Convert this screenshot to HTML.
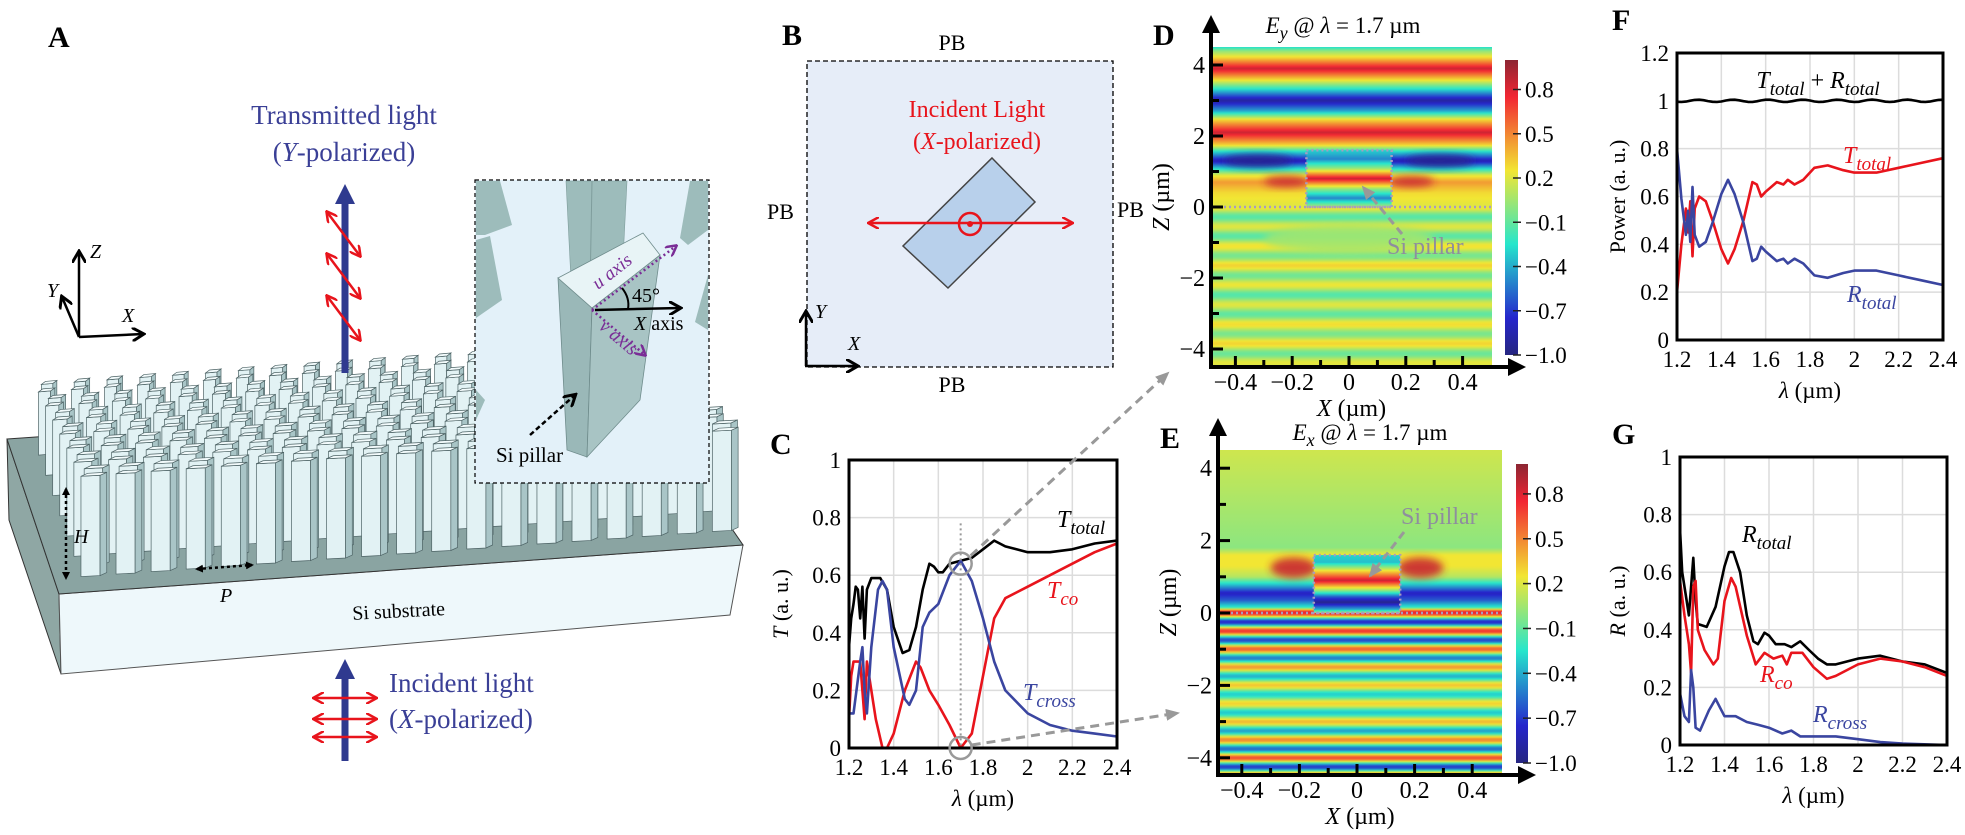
<!DOCTYPE html>
<html><head><meta charset="utf-8">
<style>
html,body{margin:0;padding:0;background:#fff;}
svg{display:block;font-family:"Liberation Serif",serif;}
</style></head>
<body>
<svg id="s" xmlns="http://www.w3.org/2000/svg" width="1965" height="835" viewBox="0 0 1965 835">
<defs>
<marker id="ab" markerWidth="8" markerHeight="8" refX="6" refY="4" orient="auto-start-reverse" markerUnits="userSpaceOnUse"><path d="M0,0 L8,4 L0,8 z" fill="#000"/></marker>
<marker id="ag" markerWidth="14" markerHeight="12" refX="12" refY="6" orient="auto" markerUnits="userSpaceOnUse"><path d="M0,0 L14,6 L0,12 z" fill="#999"/></marker>
<marker id="ar" markerWidth="12" markerHeight="12" refX="10" refY="6" orient="auto-start-reverse" markerUnits="userSpaceOnUse"><path d="M0,0 L11,6 L0,12" fill="none" stroke="#e8141c" stroke-width="2.5"/></marker>
<marker id="ak" markerWidth="14" markerHeight="14" refX="11" refY="7" orient="auto" markerUnits="userSpaceOnUse"><path d="M0,0 L12,7 L0,14" fill="none" stroke="#000" stroke-width="3"/></marker>
<marker id="ap" markerWidth="12" markerHeight="12" refX="10" refY="6" orient="auto" markerUnits="userSpaceOnUse"><path d="M0,0 L11,6 L0,12" fill="none" stroke="#7a2d96" stroke-width="2.5"/></marker>
<marker id="abl" markerWidth="20" markerHeight="20" refX="4" refY="10" orient="auto" markerUnits="userSpaceOnUse"><path d="M0,0 L20,10 L0,20 z" fill="#2f3a8f"/></marker>
</defs>
<g id="A"></g>
<g id="rest"></g>
</svg>
<script>
const NS="http://www.w3.org/2000/svg";
const svg=document.getElementById('s');
function el(tag,attrs,parent,text){const e=document.createElementNS(NS,tag);for(const k in attrs)e.setAttribute(k,attrs[k]);if(text!==undefined)e.innerHTML=text;(parent||svg).appendChild(e);return e;}
function jet(v){let t=(v+1)/2;t=Math.max(0,Math.min(1,t));
 const c=x=>Math.max(0,Math.min(1,x));
 let r=c(1.5-Math.abs(4*t-3)),g=c(1.5-Math.abs(4*t-2)),b=c(1.5-Math.abs(4*t-1));
 r=0.15+0.8*r;g=0.15+0.75*g;b=0.2+0.6*b;
 return `rgb(${Math.round(r*255)},${Math.round(g*255)},${Math.round(b*255)})`;}
const defs=svg.querySelector('defs');
function vgrad(id,y0,y1,stops){const g=el('linearGradient',{id:id,gradientUnits:'userSpaceOnUse',x1:0,y1:y0,x2:0,y2:y1},defs);
 stops.forEach(s=>el('stop',{offset:s[0],'stop-color':s[1]},g));}
function interp(pts,z){for(let i=0;i<pts.length-1;i++){const a=pts[i],b=pts[i+1];if((z<=a[0]&&z>=b[0])){const t=(z-a[0])/(b[0]-a[0]);return a[1]+t*(b[1]-a[1]);}}return pts[pts.length-1][1];}
function profileGrad(id,y0,y1,zTop,zBot,f){const st=[];for(let i=0;i<=240;i++){const z=zTop+(zBot-zTop)*i/240;st.push([i/240,jet(f(z))]);}vgrad(id,y0,y1,st);}

/* ========== PANEL A ========== */
const A=document.getElementById('A');
el('text',{x:48,y:47,'font-size':30,'font-weight':'bold'},A,'A');
el('polygon',{points:'7,439 59,594 61,674 9,520',fill:'#8fa7a4',stroke:'#333','stroke-width':1},A);
el('polygon',{points:'59,594 743,545 730,615 61,674',fill:'#eef8fb',stroke:'#555','stroke-width':1},A);
el('polygon',{points:'7,439 640,395 743,545 59,594',fill:'#8aa4a2',stroke:'#333','stroke-width':1},A);
(function(){
 const FL=[59,594],FR=[743,545],BL=[7,439],BR=[640,395];
 function P(u,v){const fx=FL[0]+u*(FR[0]-FL[0]),fy=FL[1]+u*(FR[1]-FL[1]);const bx=BL[0]+u*(BR[0]-BL[0]),by=BL[1]+u*(BR[1]-BL[1]);return [fx+v*(bx-fx),fy+v*(by-fy)];}
 const rows=14,cols=19;let out='';
 for(let r=rows-1;r>=0;r--){const v=0.1+0.85*r/(rows-1);
  for(let c=0;c<cols;c++){const u=0.04+0.93*c/(cols-1)+ (r%2?0.01:0);
   const [x,y]=P(u,v);const s=1-0.45*v;const h=105*s,w=20*s,d=7*s;
   if(x>470&&x<712&&y<483)continue;
   out+=`<polygon points="${x},${y} ${x+w},${y-1} ${x+w},${y-h-1} ${x},${y-h}" fill="#e2f2f4" stroke="#4d6365" stroke-width="0.7"/>`;
   out+=`<polygon points="${x+w},${y-1} ${x+w+d},${y-4} ${x+w+d},${y-h-4} ${x+w},${y-h-1}" fill="#a9c5c7" stroke="#4d6365" stroke-width="0.7"/>`;
   out+=`<polygon points="${x},${y-h} ${x+w},${y-h-1} ${x+w+d},${y-h-4} ${x+d},${y-h-3}" fill="#f3fbfc" stroke="#4d6365" stroke-width="0.7"/>`;
  }}
 const g=el('g',{},A);g.innerHTML=out;
})();
el('line',{x1:66,y1:489,x2:66,y2:578,stroke:'#000','stroke-width':2.5,'stroke-dasharray':'3,3','marker-end':'url(#ab)','marker-start':'url(#ab)'},A);
el('text',{x:74,y:543,'font-size':20,'font-style':'italic'},A,'H');
el('line',{x1:197,y1:569,x2:252,y2:565,stroke:'#000','stroke-width':2.5,'stroke-dasharray':'3,3','marker-end':'url(#ab)','marker-start':'url(#ab)'},A);
el('text',{x:220,y:602,'font-size':20,'font-style':'italic'},A,'P');
el('text',{x:352,y:617,'font-size':20,transform:'rotate(-3 407 607)'},A,'Si substrate');
el('line',{x1:79,y1:337,x2:79,y2:252,stroke:'#000','stroke-width':2.5,'marker-end':'url(#ak)'},A);
el('line',{x1:79,y1:337,x2:143,y2:334,stroke:'#000','stroke-width':2.5,'marker-end':'url(#ak)'},A);
el('line',{x1:79,y1:337,x2:62,y2:297,stroke:'#000','stroke-width':2.5,'marker-end':'url(#ak)'},A);
el('text',{x:90,y:258,'font-size':20,'font-style':'italic'},A,'Z');
el('text',{x:122,y:322,'font-size':20,'font-style':'italic'},A,'X');
el('text',{x:47,y:297,'font-size':20,'font-style':'italic'},A,'Y');
el('text',{x:344,y:124,'font-size':27,fill:'#3a3f96','text-anchor':'middle'},A,'Transmitted light');
el('text',{x:344,y:161,'font-size':27,fill:'#3a3f96','text-anchor':'middle'},A,'(<tspan font-style="italic">Y</tspan>-polarized)');
el('line',{x1:345,y1:373,x2:345,y2:200,stroke:'#2f3a8f','stroke-width':7,'marker-end':'url(#abl)'},A);
[208,250,292].forEach(y=>{el('line',{x1:327,y1:y+4,x2:360,y2:y+48,stroke:'#e8141c','stroke-width':2.5,'marker-end':'url(#ar)','marker-start':'url(#ar)'},A);});
el('line',{x1:345,y1:761,x2:345,y2:675,stroke:'#2f3a8f','stroke-width':7,'marker-end':'url(#abl)'},A);
[698,719,737].forEach(y=>{el('line',{x1:314,y1:y,x2:376,y2:y,stroke:'#e8141c','stroke-width':2.5,'marker-end':'url(#ar)','marker-start':'url(#ar)'},A);});
el('text',{x:389,y:692,'font-size':27,fill:'#3a3f96'},A,'Incident light');
el('text',{x:389,y:728,'font-size':27,fill:'#3a3f96'},A,'(<tspan font-style="italic">X</tspan>-polarized)');
el('rect',{x:475,y:180,width:234,height:303,fill:'#e3f1f9',stroke:'#000','stroke-width':1.2,'stroke-dasharray':'4,3'},A);
const ins=el('g',{},A);
ins.innerHTML=`
<polygon points="476,181 500,181 512,225 485,235 476,235" fill="#9dbcbb"/>
<polygon points="476,240 490,236 502,300 476,318" fill="#9dbcbb"/>
<polygon points="566,181 627,181 622,280 572,300" fill="#9dbcbb" stroke="#7f9d9c" stroke-width="0.6"/>
<line x1="592" y1="181" x2="590" y2="290" stroke="#7f9d9c"/>
<polygon points="690,181 708,181 708,230 688,245 680,238" fill="#9dbcbb"/>
<polygon points="708,275 708,330 695,322" fill="#9dbcbb"/>
<polygon points="476,390 485,400 476,420" fill="#9dbcbb"/>
<polygon points="558,278 592,308 587,457 567,450" fill="#9ab8b8" stroke="#6f8c8c" stroke-width="0.8"/>
<polygon points="592,308 660,255 640,400 587,457" fill="#a8c4c4" stroke="#6f8c8c" stroke-width="0.8"/>
<polygon points="558,278 643,233 660,255 592,308" fill="#e8f4f6" stroke="#6f8c8c" stroke-width="0.8"/>`;
el('line',{x1:592,y1:310,x2:676,y2:246,stroke:'#7a2d96','stroke-width':2.5,'stroke-dasharray':'2,3','marker-end':'url(#ap)'},A);
el('line',{x1:592,y1:310,x2:645,y2:355,stroke:'#7a2d96','stroke-width':2.5,'stroke-dasharray':'2,3','marker-end':'url(#ap)'},A);
el('line',{x1:595,y1:310,x2:680,y2:308,stroke:'#000','stroke-width':2.5,'marker-end':'url(#ak)'},A);
el('path',{d:'M622,288 Q630,298 628,309',fill:'none',stroke:'#000','stroke-width':2},A);
el('text',{x:632,y:302,'font-size':20},A,'45°');
el('text',{x:634,y:330,'font-size':20},A,'<tspan font-style="italic">X</tspan> axis');
el('text',{x:0,y:0,'font-size':19,'font-style':'italic',fill:'#7a2d96',transform:'translate(598,290) rotate(-38)'},A,'u axis');
el('text',{x:0,y:0,'font-size':19,'font-style':'italic',fill:'#7a2d96',transform:'translate(598,328) rotate(40)'},A,'v axis');
el('line',{x1:530,y1:435,x2:575,y2:395,stroke:'#000','stroke-width':2.5,'stroke-dasharray':'5,3','marker-end':'url(#ak)'},A);
el('text',{x:496,y:462,'font-size':21},A,'Si pillar');

/* ========== rest ========== */
const R=document.getElementById('rest');
el('text',{x:782,y:45,'font-size':30,'font-weight':'bold'},R,'B');
el('rect',{x:807,y:61,width:306,height:306,fill:'#e6edf8',stroke:'#000','stroke-width':1.3,'stroke-dasharray':'5,3'},R);
el('text',{x:952,y:50,'font-size':22,'text-anchor':'middle'},R,'PB');
el('text',{x:952,y:392,'font-size':22,'text-anchor':'middle'},R,'PB');
el('text',{x:767,y:219,'font-size':22},R,'PB');
el('text',{x:1117,y:217,'font-size':22},R,'PB');
el('text',{x:977,y:117,'font-size':24,fill:'#e8141c','text-anchor':'middle'},R,'Incident Light');
el('text',{x:977,y:149,'font-size':24,fill:'#e8141c','text-anchor':'middle'},R,'(<tspan font-style="italic">X</tspan>-polarized)');
el('polygon',{points:'992,158 1035,202 948,288 903,246',fill:'#b8d0eb',stroke:'#444','stroke-width':1.5},R);
el('line',{x1:869,y1:223,x2:1072,y2:223,stroke:'#e8141c','stroke-width':2.5,'marker-end':'url(#ar)','marker-start':'url(#ar)'},R);
el('circle',{cx:970,cy:224,r:11,fill:'none',stroke:'#e8141c','stroke-width':2.5},R);
el('circle',{cx:970,cy:224,r:3,fill:'#e8141c'},R);
el('line',{x1:806,y1:366,x2:806,y2:312,stroke:'#000','stroke-width':2.5,'marker-end':'url(#ak)'},R);
el('line',{x1:805,y1:366,x2:857,y2:366,stroke:'#000','stroke-width':2.5,'marker-end':'url(#ak)'},R);
el('text',{x:815,y:318,'font-size':20,'font-style':'italic'},R,'Y');
el('text',{x:848,y:350,'font-size':20,'font-style':'italic'},R,'X');

function plot(o){
 const {x0,x1,y0,y1,ymax,yticks,lab,labx,laby,ylabel,ylx,series}=o;
 const X=l=>x0+(l-1.2)/1.2*(x1-x0), Y=v=>y1-v/ymax*(y1-y0);
 const g=el('g',{},R);
 [1.4,1.6,1.8,2.0,2.2].forEach(l=>el('line',{x1:X(l),y1:y0,x2:X(l),y2:y1,stroke:'#dcdcdc','stroke-width':1.5},g));
 yticks.forEach(v=>{if(v>0&&v<ymax)el('line',{x1:x0,y1:Y(v),x2:x1,y2:Y(v),stroke:'#dcdcdc','stroke-width':1.5},g);});
 series.forEach(s=>{let d='';s.p.forEach((p,i)=>{d+=(i?'L':'M')+X(p[0]).toFixed(1)+','+Y(p[1]).toFixed(1);});
  el('path',{d:d,fill:'none',stroke:s.c,'stroke-width':2.6,'stroke-linejoin':'round'},g);});
 el('rect',{x:x0,y:y0,width:x1-x0,height:y1-y0,fill:'none',stroke:'#000','stroke-width':3},g);
 yticks.forEach(v=>el('text',{x:x0-8,y:Y(v)+8,'font-size':23,'text-anchor':'end'},g,String(v)));
 [1.2,1.4,1.6,1.8,2,2.2,2.4].forEach(l=>el('text',{x:X(l),y:y1+27,'font-size':23,'text-anchor':'middle'},g,String(l)));
 el('text',{x:(x0+x1)/2,y:y1+58,'font-size':23,'text-anchor':'middle'},g,'<tspan font-style="italic">λ</tspan> (µm)');
 el('text',{x:0,y:0,'font-size':22,'text-anchor':'middle',transform:`translate(${ylx},${(y0+y1)/2}) rotate(-90)`},g,ylabel);
 el('text',{x:labx,y:laby,'font-size':30,'font-weight':'bold'},g,lab);
 return {X,Y,g};
}
const red='#e8141c',blue='#3a45a0',blk='#000';
const Tt=[[1.2,0.35],[1.21,0.45],[1.22,0.5],[1.23,0.56],[1.24,0.55],[1.25,0.45],[1.26,0.56],[1.27,0.38],[1.28,0.55],[1.3,0.59],[1.34,0.59],[1.37,0.55],[1.4,0.42],[1.44,0.33],[1.47,0.34],[1.5,0.42],[1.53,0.55],[1.56,0.64],[1.58,0.63],[1.6,0.61],[1.62,0.61],[1.65,0.64],[1.7,0.65],[1.75,0.66],[1.8,0.69],[1.85,0.72],[1.9,0.7],[1.95,0.69],[2.0,0.68],[2.1,0.68],[2.2,0.69],[2.3,0.71],[2.4,0.72]];
const Tco=[[1.2,0.1],[1.21,0.25],[1.22,0.3],[1.25,0.3],[1.26,0.2],[1.27,0.1],[1.28,0.3],[1.29,0.25],[1.32,0.1],[1.35,0.0],[1.37,0.0],[1.4,0.05],[1.45,0.2],[1.5,0.3],[1.52,0.28],[1.56,0.2],[1.6,0.15],[1.65,0.08],[1.7,0.0],[1.75,0.05],[1.8,0.25],[1.85,0.45],[1.9,0.52],[2.0,0.56],[2.1,0.6],[2.2,0.64],[2.3,0.68],[2.4,0.71]];
const Tcr=[[1.2,0.12],[1.22,0.12],[1.25,0.3],[1.26,0.35],[1.27,0.2],[1.28,0.12],[1.3,0.35],[1.33,0.55],[1.35,0.58],[1.37,0.55],[1.4,0.35],[1.45,0.17],[1.47,0.15],[1.5,0.2],[1.53,0.42],[1.56,0.47],[1.6,0.5],[1.65,0.6],[1.7,0.65],[1.75,0.58],[1.8,0.45],[1.85,0.3],[1.9,0.2],[2.0,0.12],[2.1,0.08],[2.2,0.06],[2.3,0.05],[2.4,0.04]];
const C=plot({x0:849,x1:1117,y0:460,y1:748,ymax:1,yticks:[0,0.2,0.4,0.6,0.8,1],lab:'C',labx:770,laby:454,ylabel:'<tspan font-style="italic">T</tspan> (a. u.)',ylx:788,series:[{c:blk,p:Tt},{c:red,p:Tco},{c:blue,p:Tcr}]});
el('line',{x1:C.X(1.7),y1:C.Y(0.78),x2:C.X(1.7),y2:C.Y(0),stroke:'#999','stroke-width':2,'stroke-dasharray':'2,3'},R);
el('circle',{cx:C.X(1.7),cy:C.Y(0.64),r:11,fill:'none',stroke:'#999','stroke-width':2.5},R);
el('circle',{cx:C.X(1.7),cy:C.Y(0),r:11,fill:'none',stroke:'#999','stroke-width':2.5},R);
el('line',{x1:C.X(1.7)+10,y1:C.Y(0.64)-8,x2:1168,y2:373,stroke:'#999','stroke-width':3,'stroke-dasharray':'9,6','marker-end':'url(#ag)'},R);
el('line',{x1:C.X(1.7)+11,y1:C.Y(0)-3,x2:1178,y2:713,stroke:'#999','stroke-width':3,'stroke-dasharray':'9,6','marker-end':'url(#ag)'},R);
el('text',{x:1057,y:527,'font-size':24,'font-style':'italic'},R,'T<tspan font-size="19" dy="7">total</tspan>');
el('text',{x:1047,y:598,'font-size':24,'font-style':'italic',fill:red},R,'T<tspan font-size="19" dy="7">co</tspan>');
el('text',{x:1023,y:700,'font-size':24,'font-style':'italic',fill:blue},R,'T<tspan font-size="19" dy="7">cross</tspan>');

const Ft=[[1.2,0.2],[1.22,0.4],[1.24,0.55],[1.25,0.45],[1.26,0.58],[1.27,0.35],[1.28,0.55],[1.3,0.6],[1.33,0.58],[1.36,0.5],[1.4,0.38],[1.43,0.32],[1.46,0.38],[1.5,0.5],[1.54,0.66],[1.56,0.65],[1.58,0.6],[1.6,0.62],[1.65,0.66],[1.68,0.65],[1.7,0.67],[1.73,0.65],[1.77,0.67],[1.82,0.72],[1.88,0.73],[1.95,0.71],[2.0,0.7],[2.1,0.7],[2.2,0.72],[2.3,0.74],[2.4,0.76]];
const Fr=Ft.map(p=>[p[0],Math.max(0,Math.min(0.82,1-p[1]-0.01))]);Fr[0]=[1.2,0.8];
const Fs=[];for(let l=1.2;l<=2.401;l+=0.02)Fs.push([l,1+0.005*Math.sin(l*40)]);
plot({x0:1677,x1:1943,y0:53,y1:340,ymax:1.2,yticks:[0,0.2,0.4,0.6,0.8,1,1.2],lab:'F',labx:1612,laby:30,ylabel:'Power (a. u.)',ylx:1625,series:[{c:blk,p:Fs},{c:red,p:Ft},{c:blue,p:Fr}]});
el('text',{x:1818,y:88,'font-size':24,'font-style':'italic','text-anchor':'middle'},R,'T<tspan font-size="19" dy="7">total</tspan><tspan dy="-7" font-style="normal"> + </tspan>R<tspan font-size="19" dy="7">total</tspan>');
el('text',{x:1843,y:163,'font-size':24,'font-style':'italic',fill:red},R,'T<tspan font-size="19" dy="7">total</tspan>');
el('text',{x:1847,y:302,'font-size':24,'font-style':'italic',fill:blue},R,'R<tspan font-size="19" dy="7">total</tspan>');

const Gt=[[1.2,0.75],[1.21,0.6],[1.23,0.5],[1.24,0.45],[1.25,0.55],[1.26,0.65],[1.27,0.5],[1.28,0.42],[1.32,0.41],[1.36,0.48],[1.4,0.62],[1.42,0.67],[1.44,0.67],[1.47,0.6],[1.5,0.45],[1.53,0.36],[1.55,0.35],[1.58,0.39],[1.6,0.38],[1.63,0.35],[1.67,0.35],[1.7,0.34],[1.74,0.36],[1.78,0.33],[1.82,0.3],[1.86,0.28],[1.9,0.28],[2.0,0.3],[2.1,0.31],[2.2,0.29],[2.3,0.28],[2.4,0.25]];
const Gc=[[1.2,0.57],[1.22,0.45],[1.24,0.35],[1.25,0.25],[1.26,0.55],[1.27,0.57],[1.28,0.4],[1.31,0.33],[1.35,0.28],[1.37,0.3],[1.4,0.5],[1.43,0.58],[1.45,0.55],[1.5,0.38],[1.54,0.28],[1.58,0.32],[1.62,0.3],[1.66,0.31],[1.68,0.28],[1.7,0.32],[1.75,0.32],[1.8,0.27],[1.86,0.23],[1.9,0.24],[2.0,0.28],[2.1,0.3],[2.2,0.29],[2.3,0.27],[2.4,0.24]];
const Gx=[[1.2,0.18],[1.22,0.1],[1.24,0.08],[1.25,0.26],[1.26,0.2],[1.27,0.06],[1.29,0.05],[1.33,0.12],[1.36,0.16],[1.38,0.13],[1.4,0.1],[1.45,0.1],[1.5,0.08],[1.55,0.07],[1.6,0.06],[1.66,0.04],[1.7,0.05],[1.74,0.03],[1.8,0.03],[1.9,0.03],[2.0,0.02],[2.1,0.01],[2.2,0.005],[2.4,0]];
plot({x0:1680,x1:1947,y0:457,y1:745,ymax:1,yticks:[0,0.2,0.4,0.6,0.8,1],lab:'G',labx:1612,laby:444,ylabel:'<tspan font-style="italic">R</tspan> (a. u.)',ylx:1625,series:[{c:blk,p:Gt},{c:red,p:Gc},{c:blue,p:Gx}]});
el('text',{x:1742,y:542,'font-size':24,'font-style':'italic'},R,'R<tspan font-size="19" dy="7">total</tspan>');
el('text',{x:1760,y:682,'font-size':24,'font-style':'italic',fill:red},R,'R<tspan font-size="19" dy="7">co</tspan>');
el('text',{x:1813,y:722,'font-size':24,'font-style':'italic',fill:blue},R,'R<tspan font-size="19" dy="7">cross</tspan>');

function heat(o){
 const {px0,px1,py0,py1,z0y,zs,x0px,xs,ax,ay,cb,title,tx,ty,lab,lx,ly,outer,inner,blobs,id,pillLab}=o;
 const Yz=z=>z0y-z*zs, Xx=x=>x0px+x*xs;
 profileGrad(id+'o',py0,py1,(z0y-py0)/zs,(z0y-py1)/zs,outer);
 el('rect',{x:px0,y:py0,width:px1-px0,height:py1-py0,fill:`url(#${id}o)`},R);
 blobs.forEach(b=>el('ellipse',{cx:Xx(b[0]),cy:Yz(b[1]),rx:b[2]*xs,ry:b[3]*zs,fill:jet(b[4]),filter:'url(#blur)',opacity:0.9},R));
 profileGrad(id+'i',Yz(1.6),Yz(0),1.6,0,inner);
 el('rect',{x:Xx(-0.15),y:Yz(1.6),width:0.3*xs,height:1.6*zs,fill:`url(#${id}i)`},R);
 el('rect',{x:Xx(-0.15),y:Yz(1.6),width:0.3*xs,height:1.6*zs,fill:'none',stroke:'#a89cc0','stroke-width':2.5,'stroke-dasharray':'2,3'},R);
 el('line',{x1:px0+3,y1:Yz(0),x2:px1,y2:Yz(0),stroke:'#a89cc0','stroke-width':2.5,'stroke-dasharray':'2,3'},R);
 const st=[];for(let i=0;i<=40;i++)st.push([i/40,jet(1-2*i/40)]);
 vgrad(id+'c',cb[1],cb[3],st);
 el('rect',{x:cb[0],y:cb[1],width:cb[2]-cb[0],height:cb[3]-cb[1],fill:`url(#${id}c)`},R);
 [0.8,0.5,0.2,-0.1,-0.4,-0.7,-1.0].forEach(v=>{const y=cb[1]+(1-v)/2*(cb[3]-cb[1]);
  el('line',{x1:cb[2]-5,y1:y,x2:cb[2]+3,y2:y,stroke:'#222','stroke-width':1.5},R);
  el('text',{x:cb[2]+7,y:y+8,'font-size':23},R,(v<0?'−':'')+Math.abs(v).toFixed(1));});
 el('line',{x1:ax,y1:py1+2,x2:ax,y2:py0-18,stroke:'#000','stroke-width':4,'marker-end':'url(#abig)'},R);
 el('line',{x1:ax-2,y1:ay,x2:px1+20,y2:ay,stroke:'#000','stroke-width':4,'marker-end':'url(#abig)'},R);
 for(let z=-4;z<=4;z++){el('line',{x1:ax,y1:Yz(z),x2:ax+(z%2?8:12),y2:Yz(z),stroke:'#000','stroke-width':3},R);
  if(z%2==0)el('text',{x:ax-6,y:Yz(z)+8,'font-size':24,'text-anchor':'end'},R,(z<0?'−':'')+Math.abs(z));}
 for(let i=-4;i<=4;i++){const x=Xx(i/10);el('line',{x1:x,y1:ay,x2:x,y2:ay-(i%2?7:11),stroke:'#000','stroke-width':3},R);
  if(i%2==0)el('text',{x:x,y:ay+23,'font-size':24,'text-anchor':'middle'},R,(i<0?'−':'')+(i==0?'0':Math.abs(i/10).toFixed(1)));}
 el('text',{x:(px0+px1)/2,y:ay+49,'font-size':24,'text-anchor':'middle'},R,'<tspan font-style="italic">X</tspan> (µm)');
 el('text',{x:0,y:0,'font-size':24,'text-anchor':'middle',transform:`translate(${ax-42},${(py0+py1)/2-10}) rotate(-90)`},R,'<tspan font-style="italic">Z</tspan> (µm)');
 el('text',{x:tx,y:ty,'font-size':23,'text-anchor':'middle'},R,title);
 el('text',{x:lx,y:ly,'font-size':30,'font-weight':'bold'},R,lab);
 el('line',{x1:pillLab[2],y1:pillLab[3],x2:pillLab[4],y2:pillLab[5],stroke:'#999','stroke-width':3,'stroke-dasharray':'8,5','marker-end':'url(#ag)'},R);
 el('text',{x:pillLab[0],y:pillLab[1],'font-size':24,fill:'#8e8e9e'},R,'Si pillar');
}
const bf=el('filter',{id:'blur',x:'-50%',y:'-50%',width:'200%',height:'200%'},defs);el('feGaussianBlur',{stdDeviation:4},bf);
const mk=el('marker',{id:'abig',markerWidth:18,markerHeight:18,refX:4,refY:9,orient:'auto',markerUnits:'userSpaceOnUse'},defs);el('path',{d:'M0,0 L18,9 L0,18 z',fill:'#000'},mk);

const Dout=[[4.6,-0.5],[4.4,0.0],[4.2,0.3],[3.9,0.85],[3.6,0.3],[3.3,-0.3],[3.0,-0.9],[2.7,-0.4],[2.45,0.3],[2.1,0.85],[1.75,0.3],[1.55,-0.3],[1.3,-0.85],[1.05,-0.2],[0.9,0.2],[0.7,0.45],[0.4,0.28],[0.0,0.2]];
function Df(z){if(z>=0)return interp(Dout,z);return 0.08+0.17*Math.cos((z)*2*Math.PI/0.55)+0.05*Math.sin(z*3);}
heat({id:'D',px0:1211,px1:1492,py0:47,py1:367,z0y:207,zs:35.5,x0px:1349,xs:284,ax:1211,ay:367,cb:[1505,60,1518,355],
 title:'<tspan font-style="italic">E</tspan><tspan font-size="18" dy="6" font-style="italic">y</tspan><tspan dy="-6"> @ </tspan><tspan font-style="italic">λ</tspan> = 1.7 µm',tx:1343,ty:33,lab:'D',lx:1153,ly:45,
 outer:Df,inner:z=>interp([[1.6,-0.3],[1.35,-0.5],[1.1,0.0],[0.8,0.85],[0.5,0.0],[0.25,-0.5],[0,0.1]],z),
 blobs:[[-0.32,1.3,0.12,0.18,-0.95],[0.32,1.3,0.12,0.18,-0.95],[-0.22,0.72,0.08,0.15,0.85],[0.22,0.72,0.08,0.15,0.85],[0,-0.9,0.3,0.4,0.05]],
 pillLab:[1387,254,1402,234,1363,187]});
function Ef(z){if(z>=1.8)return 0.0+0.06*(z-1.8);
 if(z>=0)return interp([[1.8,0.0],[1.6,0.25],[1.3,0.25],[1.0,0.1],[0.8,-0.3],[0.55,-0.8],[0.35,-0.6],[0.15,-0.2],[0.05,0.7],[0,0.8]],z);
 return 0.75*Math.cos(z*2*Math.PI/0.5)*(0.7+0.3*Math.cos(z*1.3));}
heat({id:'E',px0:1218,px1:1502,py0:450,py1:775,z0y:613,zs:36.2,x0px:1357,xs:288,ax:1218,ay:775,cb:[1516,464,1528,763],
 title:'<tspan font-style="italic">E</tspan><tspan font-size="18" dy="6" font-style="italic">x</tspan><tspan dy="-6"> @ </tspan><tspan font-style="italic">λ</tspan> = 1.7 µm',tx:1370,ty:440,lab:'E',lx:1160,ly:448,
 outer:Ef,inner:z=>interp([[1.6,-0.3],[1.4,-0.35],[1.15,0.3],[0.9,0.85],[0.65,0.1],[0.45,-0.6],[0.3,-0.95],[0.1,-0.4],[0,0.1]],z),
 blobs:[[-0.22,1.25,0.08,0.28,0.85],[0.22,1.25,0.08,0.28,0.85]],
 pillLab:[1401,524,1404,532,1370,576]});
</script>
</body></html>
